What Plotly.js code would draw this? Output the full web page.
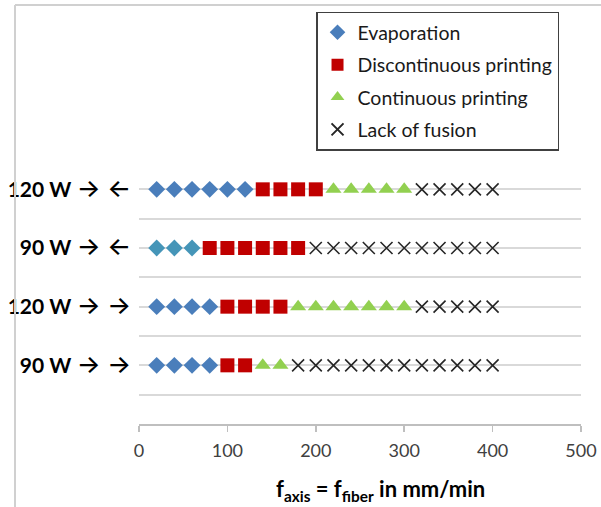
<!DOCTYPE html>
<html>
<head>
<meta charset="utf-8">
<script src="https://cdn.plot.ly/plotly-3.0.1.min.js"></script>
<style>html,body{margin:0;padding:0;background:#fff;}#chart{width:601px;height:507px;}</style>
</head>
<body>
<div id="chart"></div>
<script>
// Row positions and labels (bottom to top)
var rowPos = [1, 2, 3, 4];
var rowPower = ["90 W", "120 W", "90 W", "120 W"];
var rowArrows = ["→ →", "→ →", "→ ←", "→ ←"];

// Feed rate (mm/min) per row for each regime
// Row 1: 90 W → →
var r1Evap = [20, 40, 60, 80];
var r1Disc = [100, 120];
var r1Cont = [140, 160];
var r1Lack = [180, 200, 220, 240, 260, 280, 300, 320, 340, 360, 380, 400];
// Row 2: 120 W → →
var r2Evap = [20, 40, 60, 80];
var r2Disc = [100, 120, 140, 160];
var r2Cont = [180, 200, 220, 240, 260, 280, 300];
var r2Lack = [320, 340, 360, 380, 400];
// Row 3: 90 W → ←
var r3Evap = [20, 40, 60];
var r3Disc = [80, 100, 120, 140, 160, 180];
var r3Cont = [];
var r3Lack = [200, 220, 240, 260, 280, 300, 320, 340, 360, 380, 400];
// Row 4: 120 W → ←
var r4Evap = [20, 40, 60, 80, 100, 120];
var r4Disc = [140, 160, 180, 200];
var r4Cont = [220, 240, 260, 280, 300];
var r4Lack = [320, 340, 360, 380, 400];

var seriesNames = ["Evaporation", "Discontinuous printing", "Continuous printing", "Lack of fusion"];
var xTicks = [0, 100, 200, 300, 400, 500];

var rowLabels = rowPower.map(function (p, i) {
  return "<b>" + p + "</b> <span style=\"font-family:Inter;font-size:25px;font-weight:500\">" + rowArrows[i] + "</span>";
});

function build(rows) {
  var xs = [], ys = [];
  rows.forEach(function (r, i) {
    r.forEach(function (v) { xs.push(v); ys.push(rowPos[i]); });
  });
  return {x: xs, y: ys};
}

var evap = build([r1Evap, r2Evap, r3Evap, r4Evap]);
var disc = build([r1Disc, r2Disc, r3Disc, r4Disc]);
var cont = build([r1Cont, r2Cont, r3Cont, r4Cont]);
var lack = build([r1Lack, r2Lack, r3Lack, r4Lack]);

var evapColors = evap.y.map(function (y) { return y === 3 ? "#4595b8" : "#4a7ebb"; });

var traces = [
  {x: evap.x, y: evap.y, name: seriesNames[0], type: "scatter", mode: "markers", legendgroup: "a",
   marker: {symbol: "diamond", size: 13, color: evapColors}},
  {x: disc.x, y: disc.y, name: seriesNames[1], type: "scatter", mode: "markers", legendgroup: "b",
   marker: {symbol: "square", size: 14, color: "#c00000"}},
  {x: cont.x, y: cont.y, name: seriesNames[2], type: "scatter", mode: "markers", legendgroup: "c",
   marker: {symbol: "triangle-up", size: 14, color: "#92d050"}},
  {x: lack.x, y: lack.y, name: seriesNames[3], type: "scatter", mode: "markers", legendgroup: "d",
   marker: {symbol: "x-thin-open", size: 12, color: "#262626", line: {width: 1.6, color: "#262626"}}}
];

var layout = {
  width: 601, height: 507,
  margin: {l: 139, r: 20, t: 160, b: 83},
  paper_bgcolor: "#ffffff", plot_bgcolor: "#ffffff",
  font: {family: "Lato, 'DejaVu Sans', sans-serif", color: "#000"},
  showlegend: true,
  legend: {
    x: 0.4005, xanchor: "left", y: 1.562, yanchor: "top",
    bordercolor: "#404040", borderwidth: 1.5, bgcolor: "#ffffff",
    font: {size: 19.5, color: "#1a1a1a", family: "Lato, sans-serif"},
    tracegroupgap: 4, itemsizing: "constant"
  },
  xaxis: {
    range: [0, 500], tickvals: xTicks, ticks: "outside", ticklen: 6, tickcolor: "#bfbfbf", tickwidth: 1.5,
    showline: true, linecolor: "#bfbfbf", linewidth: 1.5, showgrid: false, zeroline: false,
    tickfont: {size: 18, color: "#404040", family: "Lato, sans-serif"}, ticklabelstandoff: 4, fixedrange: true
  },
  yaxis: {
    range: [0, 4.5], tickvals: rowPos, ticktext: rowLabels, showgrid: true, gridcolor: "#d9d9d9", gridwidth: 2,
    showline: false, zeroline: false, ticks: "", ticklabelstandoff: 7,
    tickfont: {size: 21, color: "#000", family: "Lato, 'DejaVu Sans', sans-serif"},
    minor: {tickvals: [0.5, 1.5, 2.5, 3.5, 4.5], showgrid: true, gridcolor: "#d9d9d9", gridwidth: 2, ticks: ""},
    fixedrange: true
  },
  annotations: [{
    text: "<b>f<sub>axis</sub> = f<sub>fiber</sub> in mm/min</b>", xref: "paper", yref: "paper",
    x: 0.547, y: -0.25, xanchor: "center", yanchor: "middle", showarrow: false,
    font: {size: 22, color: "#000", family: "Lato, sans-serif"}
  }],
  shapes: [
    {type: "line", xref: "paper", yref: "paper", x0: -0.2805, x1: -0.2805, y0: 1.587, y1: -0.32,
     line: {color: "#d0d0d0", width: 2}},
    {type: "line", xref: "paper", yref: "paper", x0: -0.2805, x1: 1.05, y0: 1.587, y1: 1.587,
     line: {color: "#d0d0d0", width: 2}}
  ]
};

Plotly.newPlot("chart", traces, layout, {displayModeBar: false, staticPlot: true});
</script>
</body>
</html>
